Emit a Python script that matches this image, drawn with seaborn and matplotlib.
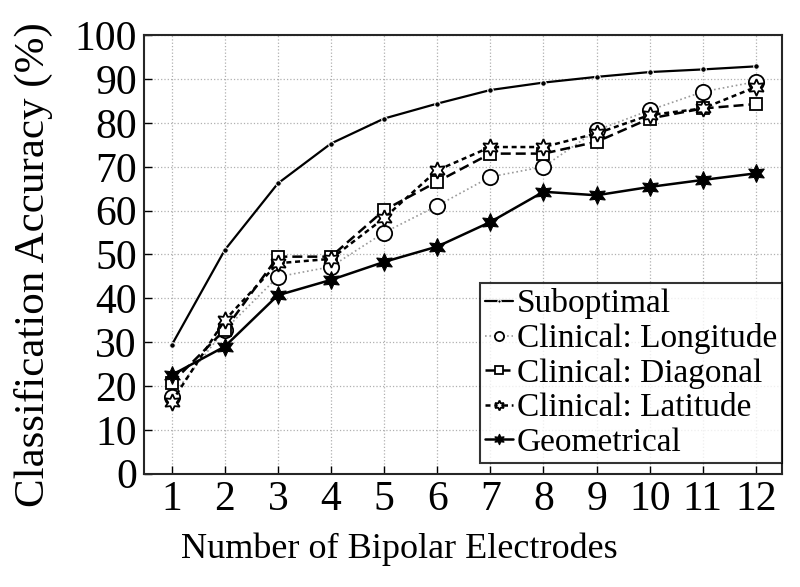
import numpy as np
import pandas as pd
import seaborn as sb
import matplotlib.pyplot as plt

electrodes = list(range(1, 13))
suboptimal = [29.3, 51.0, 66.2, 75.3, 81.0, 84.4, 87.5, 89.2, 90.5, 91.6, 92.2, 92.9]
longitude = [17.6, 32.8, 44.9, 47.2, 55.0, 61.1, 67.7, 70.0, 78.3, 82.9, 87.1, 89.4]
diagonal = [20.7, 32.8, 49.5, 49.5, 60.1, 66.6, 73.0, 73.0, 75.7, 81.0, 83.3, 84.3]
latitude = [16.4, 35.0, 48.0, 49.0, 58.3, 69.2, 74.5, 74.5, 77.6, 81.8, 83.3, 88.2]
geometrical = [22.5, 29.0, 40.7, 44.2, 48.3, 51.8, 57.4, 64.3, 63.5, 65.4, 67.0, 68.5]

sb.set_style("ticks")
plt.rcParams["font.family"] = ["Liberation Serif", "DejaVu Serif"]
plt.rcParams["text.color"] = "black"
plt.rcParams["axes.labelcolor"] = "black"
plt.rcParams["xtick.color"] = "black"
plt.rcParams["ytick.color"] = "black"

fig = plt.figure(figsize=(8, 5.87), dpi=100)
ax = fig.add_axes([0.18, 0.193, 0.7975, 0.747])

hexagram = (6, 1, 0)
styles = [
    ("Suboptimal", suboptimal, dict(color="black", linestyle="-", linewidth=1.6,
                                    marker="o", markersize=4)),
    ("Clinical: Longitude", longitude, dict(color="#9a9a9a", linestyle=":", linewidth=1.2,
                                            marker="o", markersize=11, markerfacecolor="white",
                                            markeredgecolor="black", markeredgewidth=1.3)),
    ("Clinical: Diagonal", diagonal, dict(color="black", linestyle=(0, (4, 2)), linewidth=1.8,
                                          marker="s", markersize=9, markerfacecolor="white",
                                          markeredgecolor="black", markeredgewidth=1.3)),
    ("Clinical: Latitude", latitude, dict(color="black", linestyle=(0, (2, 1.5)), linewidth=1.8,
                                          marker=hexagram, markersize=12, markerfacecolor="white",
                                          markeredgecolor="black", markeredgewidth=1.3)),
    ("Geometrical", geometrical, dict(color="black", linestyle="-", linewidth=1.8,
                                      marker=hexagram, markersize=13, markerfacecolor="black",
                                      markeredgecolor="black")),
]

for name, vals, kw in styles:
    df = pd.DataFrame({"x": electrodes, "y": vals})
    sb.lineplot(data=df, x="x", y="y", ax=ax, label=name, **kw)

ax.set_xlim(0.48, 12.49)
ax.set_ylim(0, 100)
ax.set_xticks(electrodes)
ax.set_yticks(np.arange(0, 101, 10))
ax.grid(True, linestyle=":", color="#b0b0b0", linewidth=0.9)
ax.tick_params(direction="in", length=6, width=1, labelsize=30, pad=5)
for s in ax.spines.values():
    s.set_linewidth(1.5)
ax.set_xlabel("Number of Bipolar Electrodes", fontsize=26)
ax.set_ylabel("Classification Accuracy (%)", fontsize=31)
ax.xaxis.set_label_coords(0.40, -0.135)
ax.yaxis.set_label_coords(-0.143, 0.476)

leg = ax.legend(loc="lower right", bbox_to_anchor=(1.0, 0.025), borderaxespad=0,
                fontsize=24, handlelength=0.85, handletextpad=0.1, labelspacing=0.12,
                borderpad=0.15, frameon=True, fancybox=False, markerscale=0.6)
leg.get_frame().set_edgecolor("black")
leg.get_frame().set_linewidth(1.5)

plt.savefig("out.png")
